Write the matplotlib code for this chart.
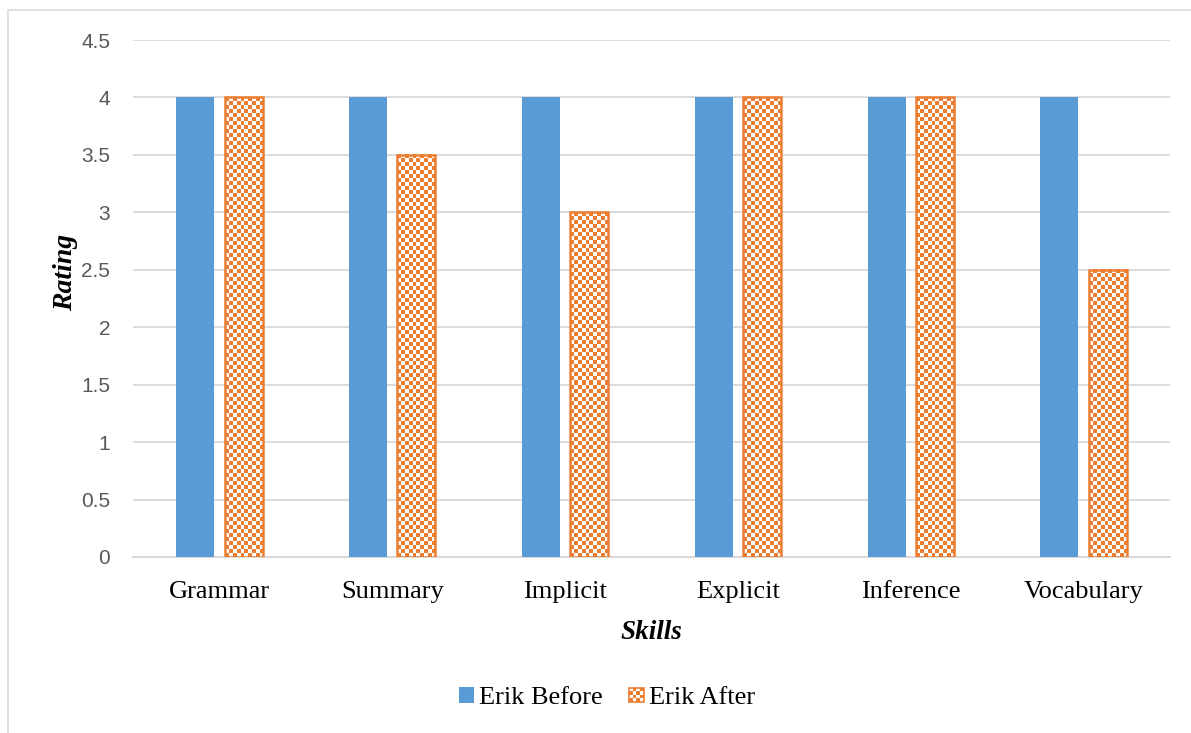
import numpy as np
import matplotlib
matplotlib.use("Agg")
import matplotlib.pyplot as plt
from matplotlib.patches import Rectangle, Patch
from matplotlib.legend_handler import HandlerPatch

skills = ["Grammar", "Summary", "Implicit", "Explicit", "Inference", "Vocabulary"]
erik_before = [4, 4, 4, 4, 4, 4]
erik_after = [4, 3.5, 3, 4, 4, 2.5]
yticks = [0, 0.5, 1, 1.5, 2, 2.5, 3, 3.5, 4, 4.5]
ytick_labels = ["0", "0.5", "1", "1.5", "2", "2.5", "3", "3.5", "4", "4.5"]

BLUE = "#5B9BD5"
ORANGE = "#ED7D31"
GRID = "#D9D9D9"
SERIF = "Liberation Serif"
SANS = "Liberation Sans"


def checker(nx, ny):
    # white/orange checkerboard as an RGB array
    ii, jj = np.meshgrid(np.arange(nx), np.arange(ny))
    mask = (ii + jj) % 2 == 0
    img = np.ones((ny, nx, 3))
    img[mask] = matplotlib.colors.to_rgb(ORANGE)
    return img


class HandlerChecker(HandlerPatch):
    def create_artists(self, legend, orig_handle, xdescent, ydescent,
                       width, height, fontsize, trans):
        s = min(width, height)
        x0 = -xdescent + (width - s) / 2
        y0 = -ydescent + (height - s) / 2
        arts = [Rectangle((x0, y0), s, s, facecolor="white",
                          edgecolor=ORANGE, lw=1.2, transform=trans)]
        n = 4
        c = s / n
        for i in range(n):
            for j in range(n):
                if (i + j) % 2 == 0:
                    arts.append(Rectangle((x0 + i * c, y0 + j * c), c, c,
                                          facecolor=ORANGE, lw=0,
                                          transform=trans))
        return arts


fig = plt.figure(figsize=(11.91, 7.33), dpi=100)
W, H = 1191, 733
ax = fig.add_axes([133 / W, 1 - 557 / H, 1037 / W, 517 / H])

# outer chart frame
fig.patches.append(Rectangle((8 / W, -0.1), 1.2, 1 - 10 / H + 0.1,
                             transform=fig.transFigure, fill=False,
                             edgecolor="#D9D9D9", lw=1.2))

x = np.arange(len(skills))
bw = 0.22
off = 0.14

ax.set_xlim(-0.5, len(skills) - 0.5)
ax.set_ylim(0, 4.5)

ax.bar(x - off, erik_before, bw, color=BLUE, zorder=3)
after_bars = ax.bar(x + off, erik_after, bw, facecolor="none",
                    edgecolor=ORANGE, lw=1.8, zorder=3)

# checkered fill, about 4 px per cell
px_per_x = 1037 / len(skills)
px_per_y = 517 / 4.5
cell = 4.0
for b in after_bars:
    bx, by = b.get_x(), b.get_y()
    w, h = b.get_width(), b.get_height()
    nx = max(1, int(round(w * px_per_x / cell)))
    ny = max(1, int(round(h * px_per_y / cell)))
    ax.imshow(checker(nx, ny), extent=(bx, bx + w, by, by + h),
              origin="lower", aspect="auto", interpolation="nearest",
              zorder=2.9)

ax.set_xlim(-0.5, len(skills) - 0.5)
ax.set_ylim(0, 4.5)

ax.set_yticks(yticks)
ax.set_yticklabels(ytick_labels, fontname=SANS, fontsize=15, color="#595959")
ax.set_xticks(x)
ax.set_xticklabels(skills, fontname=SERIF, fontsize=19, color="black")
ax.tick_params(axis="y", length=0, pad=16.5)
ax.tick_params(axis="x", length=0, pad=17)

ax.grid(axis="y", color=GRID, lw=1.3, zorder=0)
ax.set_axisbelow(True)
for s in ["top", "right", "left"]:
    ax.spines[s].set_visible(False)
ax.spines["bottom"].set_color(GRID)
ax.spines["bottom"].set_linewidth(1.5)

ax.set_ylabel("Rating", fontname=SERIF, fontsize=20, fontweight="bold",
              fontstyle="italic")
ax.yaxis.set_label_coords(-0.053, 0.55)
ax.set_xlabel("Skills", fontname=SERIF, fontsize=19.5, fontweight="bold",
              fontstyle="italic")
ax.xaxis.set_label_coords(0.5, -0.122)

handles = [Patch(facecolor=BLUE), Patch(facecolor="white", edgecolor=ORANGE)]
fig.legend(handles, ["Erik Before", "Erik After"],
           handler_map={handles[1]: HandlerChecker()},
           loc="center", bbox_to_anchor=(607 / W, 1 - 698 / H), ncol=2,
           frameon=False, prop={"family": SERIF, "size": 19},
           handlelength=0.55, handleheight=0.55, handletextpad=0.2,
           columnspacing=1.0)

fig.savefig("out.png", dpi=100)
